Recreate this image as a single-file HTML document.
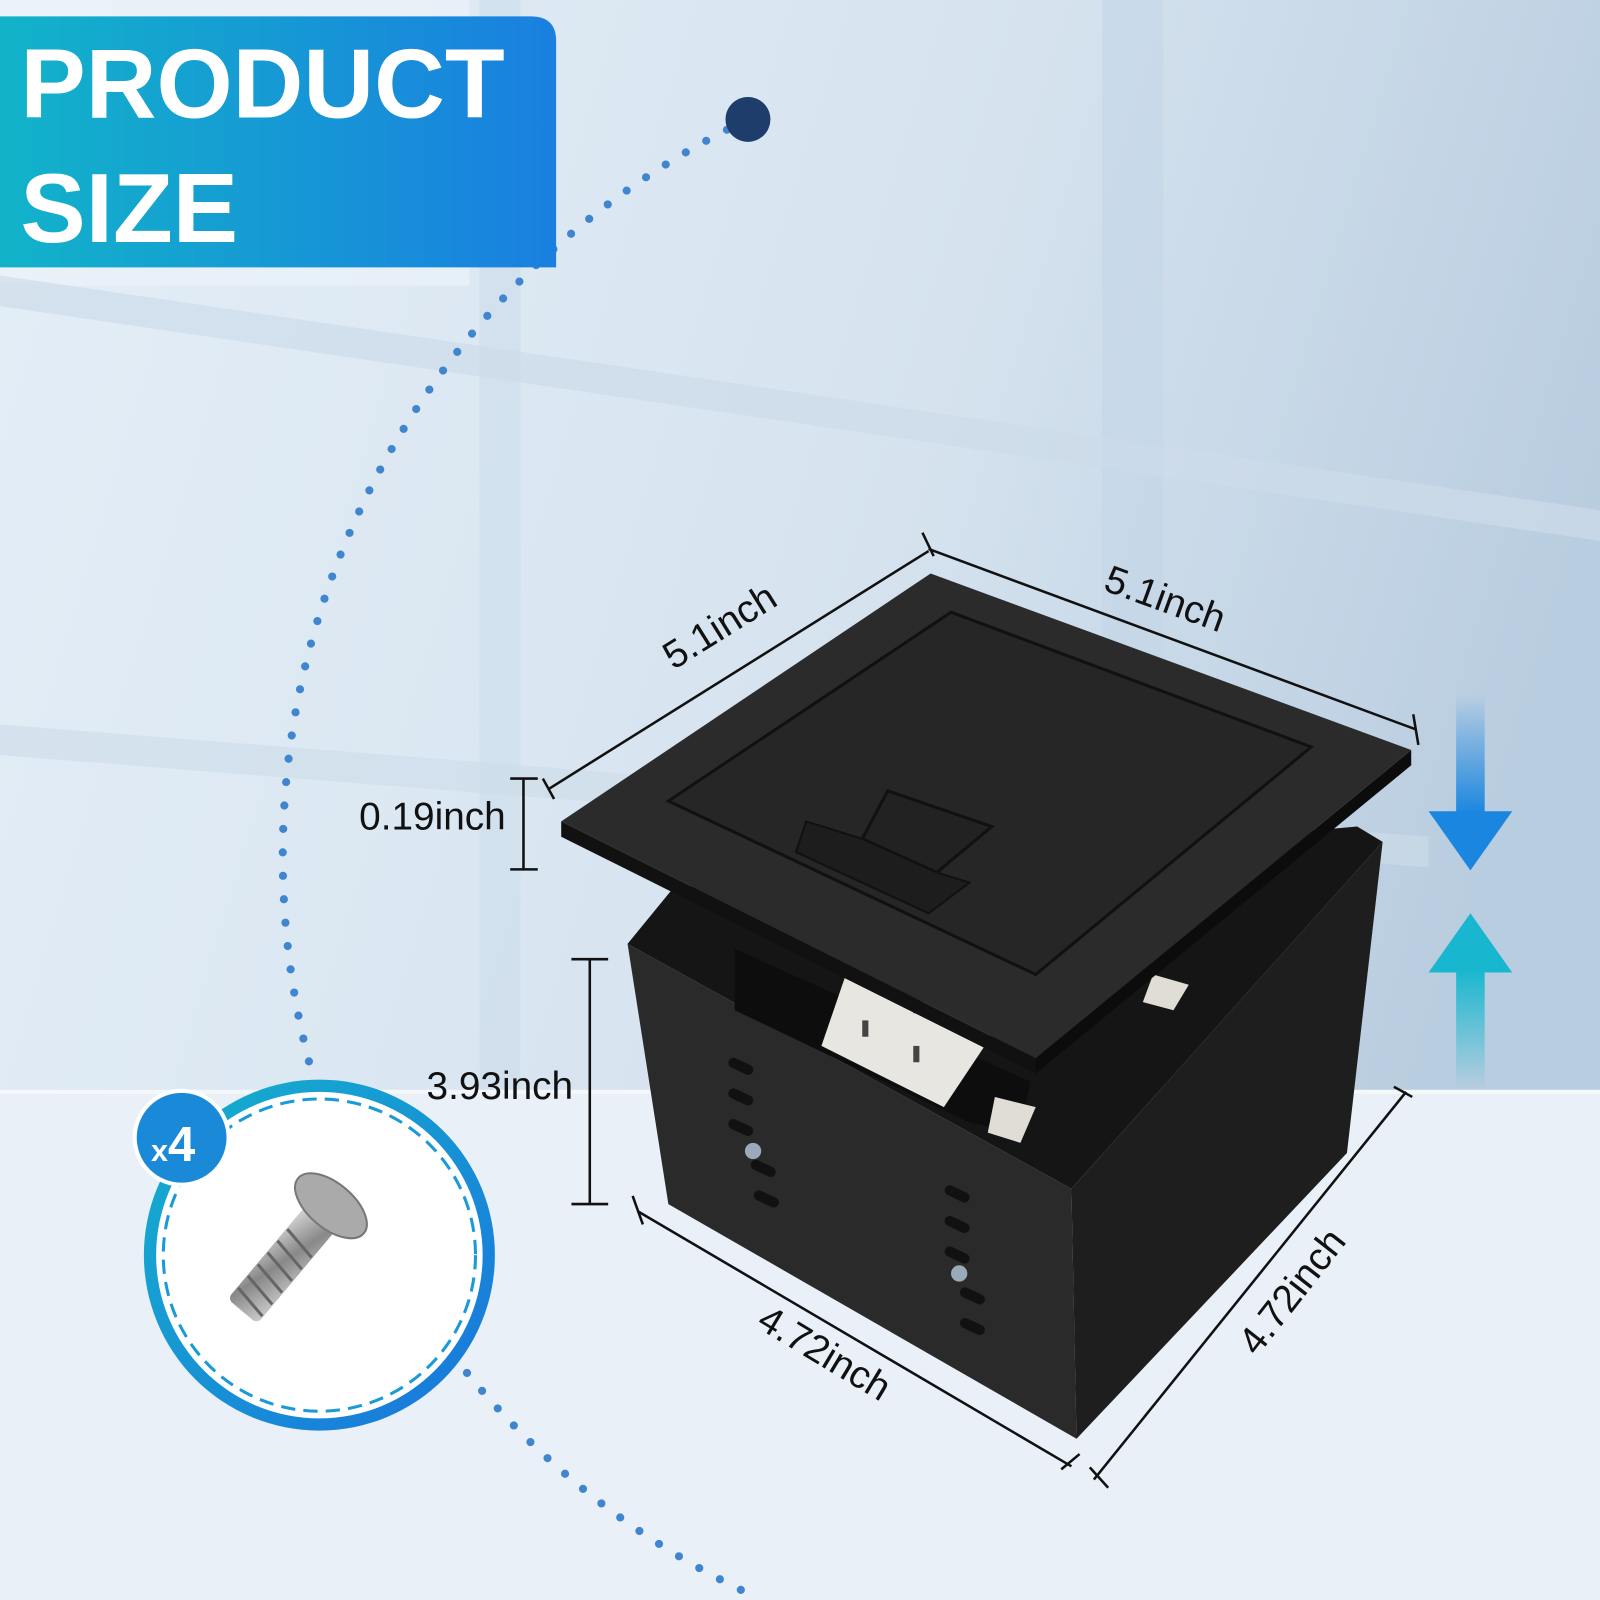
<!DOCTYPE html>
<html><head><meta charset="utf-8"><style>
html,body{margin:0;padding:0;width:1600px;height:1600px;overflow:hidden;font-family:"Liberation Sans",sans-serif}
</style></head><body>
<svg width="1600" height="1600" viewBox="0 0 1568 1568" xmlns="http://www.w3.org/2000/svg">
<defs>
<linearGradient id="bg" x1="0" y1="0" x2="1" y2="0.3">
<stop offset="0" stop-color="#e4eef7"/><stop offset="0.6" stop-color="#d6e3ef"/><stop offset="1" stop-color="#b9cde0"/>
</linearGradient>
<linearGradient id="ban" x1="0" y1="0" x2="1" y2="0">
<stop offset="0" stop-color="#12b3c9"/><stop offset="1" stop-color="#1a7fe0"/>
</linearGradient>
<linearGradient id="ad" x1="0" y1="0" x2="0" y2="1">
<stop offset="0" stop-color="#1a86e0" stop-opacity="0"/><stop offset="1" stop-color="#1a86e0"/>
</linearGradient>
<linearGradient id="au" x1="0" y1="0" x2="0" y2="1">
<stop offset="0" stop-color="#18b7cf"/><stop offset="1" stop-color="#18b7cf" stop-opacity="0"/>
</linearGradient>
<linearGradient id="ring" x1="0" y1="0" x2="1" y2="1">
<stop offset="0" stop-color="#14b2cc"/><stop offset="1" stop-color="#1a74dd"/>
</linearGradient>
<linearGradient id="screw" x1="0" y1="0" x2="1" y2="1">
<stop offset="0" stop-color="#ddd"/><stop offset="0.5" stop-color="#888"/><stop offset="1" stop-color="#ccc"/>
</linearGradient>
</defs>
<rect width="1568" height="1568" fill="url(#bg)"/>
<rect x="0" y="0" width="460" height="280" fill="#eef4fa" opacity="0.6"/>
<rect x="470" y="0" width="40" height="1070" fill="#cfdeec" opacity="0.7"/>
<rect x="1080" y="0" width="60" height="1070" fill="#c3d5e7" opacity="0.6"/>
<polygon points="0,270 1568,500 1568,530 0,300" fill="#cddcea" opacity="0.7"/>
<polygon points="0,710 1400,820 1400,850 0,740" fill="#cddcea" opacity="0.6"/>
<rect x="0" y="1070" width="1568" height="498" fill="#e9f0f7"/>
<rect x="0" y="1068" width="1568" height="4" fill="#f4f8fb"/>
<path d="M733,117 A800,800 0 0 0 730,1560" fill="none" stroke="#3f86cf" stroke-width="8" stroke-linecap="round" stroke-dasharray="0 23"/>
<circle cx="733" cy="117" r="22" fill="#1f3d6b"/>
<path d="M0,16 H520 Q545,16 545,40 V262 H0 Z" fill="url(#ban)"/>
<text x="20" y="115" font-size="96" font-weight="bold" fill="#fff">PRODUCT</text>
<text x="20" y="237" font-size="96" font-weight="bold" fill="#fff">SIZE</text>
<!-- box body -->
<polygon points="615,925 660,870 1330,810 1355,825 1050,1165" fill="#151515"/>
<polygon points="615,925 1050,1165 1055,1410 655,1180" fill="#2a2a2a"/>
<polygon points="1050,1165 1355,825 1320,1130 1055,1410" fill="#1e1e1e"/>
<polygon points="720,930 1010,1060 1000,1110 950,1100 720,990" fill="#0d0d0d"/>
<polygon points="830,952 975,1010 925,1085 805,1025" fill="#e8e6e0"/>
<rect x="895" y="975" width="8" height="18" fill="#444"/><rect x="845" y="1000" width="6" height="16" fill="#444"/><rect x="895" y="1025" width="6" height="16" fill="#444"/>
<polygon points="975,1075 1015,1085 1000,1120 968,1110" fill="#e0ddd5"/>
<polygon points="1130,955 1165,965 1150,990 1120,982" fill="#e0ddd5"/>
<g fill="#111">
<rect x="713" y="1040" width="26" height="10" rx="5" transform="rotate(25 726 1045)"/>
<rect x="713" y="1070" width="26" height="10" rx="5" transform="rotate(25 726 1075)"/>
<rect x="713" y="1100" width="26" height="10" rx="5" transform="rotate(25 726 1105)"/>
<rect x="735" y="1140" width="26" height="10" rx="5" transform="rotate(25 748 1145)"/>
<rect x="738" y="1170" width="26" height="10" rx="5" transform="rotate(25 751 1175)"/>
<rect x="925" y="1165" width="26" height="10" rx="5" transform="rotate(25 938 1170)"/>
<rect x="925" y="1195" width="26" height="10" rx="5" transform="rotate(25 938 1200)"/>
<rect x="925" y="1225" width="26" height="10" rx="5" transform="rotate(25 938 1230)"/>
<rect x="940" y="1265" width="26" height="10" rx="5" transform="rotate(25 953 1270)"/>
<rect x="940" y="1295" width="26" height="10" rx="5" transform="rotate(25 953 1300)"/>
</g>
<circle cx="738" cy="1128" r="8" fill="#9ab"/><circle cx="940" cy="1248" r="8" fill="#9ab"/>
<!-- lid -->
<polygon points="550,805 1015,1037 1015,1052 550,820" fill="#111"/>
<polygon points="1015,1037 1383,735 1383,750 1015,1052" fill="#0c0c0c"/>
<polygon points="912,562 1383,735 1015,1037 550,805" fill="#2b2b2b"/>
<polygon points="932,600 1285,732 1015,955 655,785" fill="#262626" stroke="#111" stroke-width="3"/>
<polygon points="870,775 972,810 918,855 845,822" fill="#222" stroke="#111" stroke-width="3"/>
<polygon points="790,805 845,822 918,855 950,865 910,895 780,835" fill="#1d1d1d" stroke="#111" stroke-width="2"/>
<g stroke="#111" stroke-width="2.5" fill="none">
<line x1="538" y1="773" x2="910" y2="540"/><line x1="532" y1="763" x2="543" y2="783"/><line x1="904" y1="522" x2="915" y2="545"/>
<line x1="910" y1="538" x2="1388" y2="715"/><line x1="1385" y1="700" x2="1390" y2="730"/>
<line x1="513" y1="763" x2="513" y2="852"/><line x1="500" y1="763" x2="527" y2="763"/><line x1="500" y1="852" x2="527" y2="852"/>
<line x1="578" y1="940" x2="578" y2="1180"/><line x1="560" y1="940" x2="596" y2="940"/><line x1="560" y1="1180" x2="596" y2="1180"/>
<line x1="625" y1="1187" x2="1050" y2="1437"/><line x1="620" y1="1172" x2="630" y2="1200"/><line x1="1040" y1="1440" x2="1058" y2="1425"/>
<line x1="1072" y1="1450" x2="1378" y2="1070"/><line x1="1068" y1="1438" x2="1086" y2="1458"/><line x1="1366" y1="1065" x2="1384" y2="1075"/>
</g>
<g font-size="38" fill="#111">
<text transform="translate(660,657) rotate(-32)">5.1inch</text>
<text transform="translate(1080,578) rotate(20)">5.1inch</text>
<text x="352" y="813">0.19inch</text>
<text x="418" y="1077">3.93inch</text>
<text transform="translate(740,1300) rotate(31)">4.72inch</text>
<text transform="translate(1232,1330) rotate(-52)">4.72inch</text>
</g>
<rect x="1427" y="680" width="28" height="118" fill="url(#ad)"/>
<polygon points="1400,795 1482,795 1441,853" fill="#1a86e0"/>
<polygon points="1400,953 1482,953 1441,895" fill="#18b7cf"/>
<rect x="1427" y="950" width="28" height="118" fill="url(#au)"/>
<circle cx="313" cy="1230" r="172" fill="url(#ring)"/>
<circle cx="313" cy="1230" r="160" fill="#fff"/>
<circle cx="313" cy="1230" r="153" fill="none" stroke="#1a9ad6" stroke-width="3" stroke-dasharray="14 8"/>
<g transform="rotate(40 300 1220)">
<rect x="275" y="1180" width="38" height="130" rx="6" fill="url(#screw)"/>
<g stroke="#666" stroke-width="3"><line x1="276" y1="1220" x2="312" y2="1226"/><line x1="276" y1="1235" x2="312" y2="1241"/><line x1="276" y1="1250" x2="312" y2="1256"/><line x1="276" y1="1265" x2="312" y2="1271"/><line x1="276" y1="1280" x2="312" y2="1286"/><line x1="276" y1="1295" x2="312" y2="1301"/></g>
<ellipse cx="294" cy="1175" rx="42" ry="22" fill="#aaa" stroke="#777" stroke-width="2"/>
</g>
<circle cx="178" cy="1115" r="46" fill="#1a8ad8" stroke="#fff" stroke-width="4"/>
<text x="148" y="1138" font-size="30" font-weight="bold" fill="#fff">x<tspan font-size="48">4</tspan></text>
</svg>
</body></html>
